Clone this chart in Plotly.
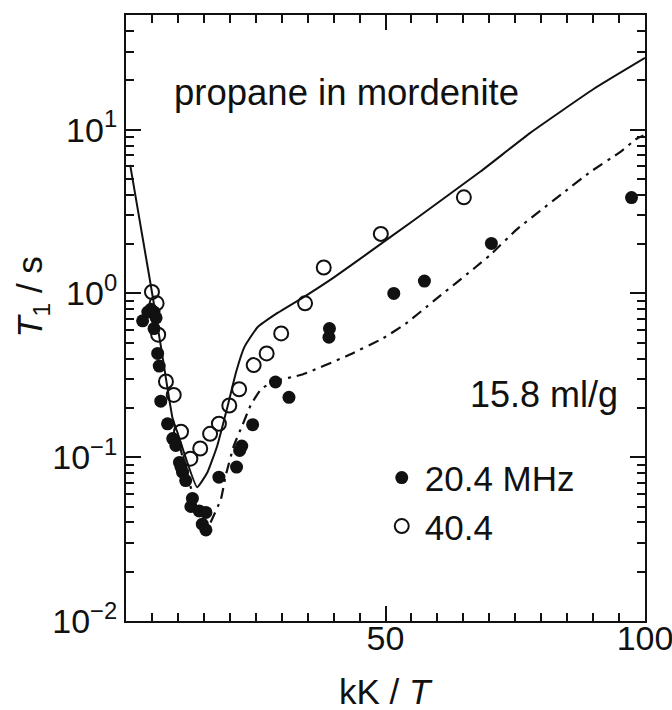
import plotly.graph_objects as go

# ---- data ----
# open circles: 40.4 MHz
x_404 = [5.0, 5.9, 6.2, 7.7, 9.2, 10.6, 12.4, 14.3, 16.2, 17.9, 19.9, 21.8, 24.6,
         27.1, 29.9, 34.5, 38.1, 49.1, 65.1]
t1_404 = [1.02, 0.87, 0.56, 0.29, 0.24, 0.143, 0.098, 0.113, 0.139, 0.16, 0.207, 0.26,
          0.365, 0.43, 0.57, 0.87, 1.44, 2.31, 3.86]

# filled circles: 20.4 MHz
x_204 = [3.2, 4.2, 4.8, 5.4, 5.8, 5.4, 6.1, 6.4, 6.7, 8.0, 9.0, 9.6, 10.3, 10.6, 10.9,
         11.5, 12.5, 12.8, 14.1, 14.7, 15.4, 15.4, 17.9, 21.3, 21.9, 22.3, 24.4, 28.8,
         31.4, 39.2, 39.1, 51.6, 57.5, 70.4, 97.4]
t1_204 = [0.68, 0.77, 0.80, 0.77, 0.71, 0.61, 0.43, 0.36, 0.22, 0.16, 0.13, 0.118, 0.093,
          0.087, 0.081, 0.072, 0.050, 0.056, 0.047, 0.039, 0.036, 0.046, 0.0755, 0.087,
          0.11, 0.117, 0.158, 0.288, 0.232, 0.61, 0.54, 1.0, 1.19, 2.02, 3.85]

# fitted curve, 40.4 MHz (solid)
x_fit40 = [0.8, 4.8, 6.7, 9.0, 9.9, 13.7, 15.7, 17.6, 19.6, 21.2, 22.8, 25.3, 29.2,
           34.0, 40.0, 46.5, 55.4, 68.3, 77.9, 90.1, 100.0]
t1_fit40 = [6.1, 1.11, 0.48, 0.171, 0.142, 0.0656, 0.081, 0.118, 0.206, 0.33, 0.47, 0.62,
            0.76, 0.94, 1.25, 1.75, 2.79, 5.55, 9.56, 17.7, 27.4]

# fitted curve, 20.4 MHz (dash-dot)
x_fit20 = [9.0, 15.2, 16.3, 18.3, 19.2, 20.8, 22.4, 24.0, 26.0, 28.5, 34.0, 42.4, 49.4,
           53.8, 59.3, 67.4, 70.2, 75.3, 84.3, 89.4, 95.2, 98.4, 99.7]
t1_fit20 = [0.171, 0.0346, 0.040, 0.0557, 0.077, 0.118, 0.156, 0.207, 0.26, 0.29, 0.32,
            0.413, 0.53, 0.65, 0.90, 1.45, 1.72, 2.46, 4.13, 5.5, 7.3, 8.8, 9.2]

y_tickvals = [0.01, 0.1, 1, 10]
y_ticktext = ["10<sup>\u22122</sup>", "10<sup>\u22121</sup>", "10<sup>0</sup>", "10<sup>1</sup>"]
x_tickvals = [50, 100]
x_ticktext = ["50", "100"]

FONT = "Liberation Sans, Arial, Helvetica, sans-serif"
BLACK = "#111111"

fig = go.Figure()

fig.add_trace(go.Scatter(
    x=x_fit40, y=t1_fit40, mode="lines", showlegend=False,
    line=dict(color=BLACK, width=2, shape="spline", smoothing=0.4)))
fig.add_trace(go.Scatter(
    x=x_fit20, y=t1_fit20, mode="lines", showlegend=False,
    line=dict(color=BLACK, width=2.2, dash="11px,6px,3px,6px", shape="spline", smoothing=0.4)))
fig.add_trace(go.Scatter(
    x=x_204, y=t1_204, mode="markers", name="20.4 MHz",
    marker=dict(symbol="circle", size=13, color=BLACK)))
fig.add_trace(go.Scatter(
    x=x_404, y=t1_404, mode="markers", name="40.4",
    marker=dict(symbol="circle-open", size=14, color=BLACK, line=dict(width=2))))

axis_common = dict(
    showline=True, linecolor=BLACK, linewidth=2, mirror="allticks",
    ticks="inside", tickcolor=BLACK, tickwidth=2, ticklen=15,
    showgrid=False, zeroline=False, automargin=False,
    tickfont=dict(family=FONT, size=34, color=BLACK),
)

fig.update_xaxes(
    range=[0, 100], tickmode="array", tickvals=x_tickvals, ticktext=x_ticktext,
    minor=dict(tickmode="linear", tick0=0, dtick=5, ticks="inside", ticklen=8,
               tickwidth=2, tickcolor=BLACK, showgrid=False),
    ticklabeloverflow="allow", ticklabelstandoff=-14,
    **axis_common)

fig.update_yaxes(
    type="log", range=[-2, 1.7], tickmode="array", tickvals=y_tickvals, ticktext=y_ticktext,
    minor=dict(dtick="D1", ticks="inside", ticklen=8, tickwidth=2, tickcolor=BLACK,
               showgrid=False),
    **axis_common)

fig.add_annotation(text="kK / <i>T</i>", xref="paper", yref="paper",
                   x=0.5, y=-0.116, xanchor="center", yanchor="middle",
                   showarrow=False, font=dict(family=FONT, size=35, color=BLACK))
fig.add_annotation(text="<i>T</i><sub>1</sub> / s", xref="paper", yref="paper",
                   x=-0.181, y=0.535, xanchor="center", yanchor="middle", textangle=-90,
                   showarrow=False, font=dict(family=FONT, size=35, color=BLACK))
fig.add_annotation(text="propane in mordenite", xref="paper", yref="paper",
                   x=0.088, y=0.872, xanchor="left", yanchor="middle",
                   showarrow=False, font=dict(family=FONT, size=36.5, color=BLACK))
fig.add_annotation(text="15.8 ml/g", xref="paper", yref="paper",
                   x=0.952, y=0.3735, xanchor="right", yanchor="middle",
                   showarrow=False, font=dict(family=FONT, size=36, color=BLACK))

fig.update_layout(
    width=672, height=710,
    margin=dict(l=126, r=27, t=15, b=89, autoexpand=False),
    paper_bgcolor="white", plot_bgcolor="white",
    font=dict(family=FONT, color=BLACK),
    legend=dict(x=0.487, y=0.285, xanchor="left", yanchor="top",
                bgcolor="rgba(0,0,0,0)", borderwidth=0, itemwidth=36,
                font=dict(family=FONT, size=35, color=BLACK), tracegroupgap=0),
)

fig.write_html("out.html")
